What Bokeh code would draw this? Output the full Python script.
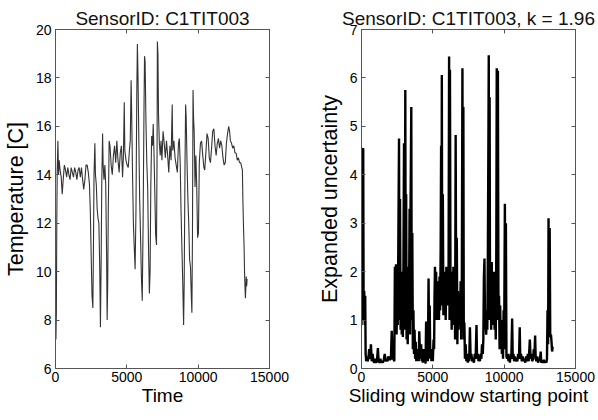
from bokeh.plotting import figure
from bokeh.layouts import row
from bokeh.models import LinearAxis, Range1d, FixedTicker
from bokeh.embed import file_html
from bokeh.resources import INLINE

# ---- data ----
time_pts = [0, 30, 60, 90, 120, 170, 210, 260, 320, 400, 470, 540, 620, 700, 780, 860, 940, 1020, 1100, 1180,
            1260, 1340, 1420, 1500, 1580, 1660, 1740, 1820, 1900, 1980, 2060, 2140, 2220, 2300, 2380, 2440, 2500,
            2560, 2620, 2660, 2700, 2760, 2800, 2860, 2920, 2980, 3040, 3100, 3150, 3200, 3240, 3300, 3340, 3400,
            3460, 3520, 3580, 3620, 3660, 3700, 3760, 3820, 3900, 3980, 4060, 4140, 4220, 4300, 4380, 4460, 4540,
            4620, 4700, 4760, 4820, 4860, 4940, 5020, 5100, 5180, 5240, 5300, 5340, 5400, 5460, 5520, 5580, 5640,
            5700, 5740, 5780, 5840, 5900, 5960, 6020, 6080, 6140, 6200, 6240, 6280, 6340, 6400, 6460, 6520, 6580,
            6630, 6680, 6740, 6800, 6850, 6900, 6960, 7020, 7080, 7120, 7140, 7180, 7220, 7280, 7340, 7400, 7460,
            7540, 7620, 7700, 7780, 7860, 7940, 8020, 8100, 8180, 8220, 8300, 8380, 8460, 8540, 8620, 8680, 8740,
            8800, 8860, 8920, 8980, 9020, 9080, 9120, 9160, 9220, 9280, 9340, 9400, 9460, 9520, 9560, 9600, 9640,
            9680, 9720, 9780, 9840, 9900, 9960, 10020, 10080, 10160, 10240, 10320, 10400, 10460, 10540, 10620,
            10700, 10780, 10860, 10940, 11020, 11100, 11180, 11260, 11340, 11420, 11500, 11580, 11660, 11740,
            11820, 11900, 11980, 12060, 12140, 12200, 12260, 12340, 12420, 12500, 12580, 12660, 12740, 12820,
            12900, 12980, 13060, 13100, 13140, 13180, 13220, 13250, 13280, 13310, 13340, 13370, 13400, 13430]
temperature = [8.4, 7.2, 8.3, 12.0, 14.2, 15.4, 14.0, 14.6, 14.2, 13.9, 13.2, 13.8, 14.4, 14.2, 13.9, 14.3, 14.0,
               13.8, 14.3, 14.1, 13.9, 14.3, 14.1, 13.8, 14.2, 14.3, 13.9, 14.3, 13.8, 13.4, 13.8, 14.4, 14.4, 14.1,
               13.6, 12.5, 10.7, 9.0, 8.5, 11.0, 14.0, 15.3, 14.0, 13.6, 12.6, 12.2, 12.0, 10.2, 7.7, 10.5, 13.5,
               15.7, 14.4, 13.8, 14.4, 13.6, 10.8, 8.0, 9.5, 12.5, 15.4, 15.2, 14.4, 14.0, 14.8, 15.2, 14.5, 15.4,
               14.6, 14.1, 14.9, 15.2, 13.9, 14.8, 17.0, 15.0, 14.6, 14.4, 14.3, 15.0, 15.4, 17.9, 16.5, 14.0, 12.0,
               11.0, 10.1, 12.5, 17.5, 19.4, 18.2, 15.5, 13.0, 11.5, 9.8, 8.8, 12.0, 16.5, 18.9, 18.7, 16.2, 14.5,
               13.5, 11.0, 9.1, 10.0, 13.5, 15.6, 15.2, 16.1, 15.0, 13.3, 11.5, 11.1, 15.0, 19.5, 19.0, 16.5, 15.3,
               14.8, 15.4, 14.6, 15.8, 15.3, 14.7, 15.4, 14.8, 14.1, 15.2, 14.6, 16.9, 15.0, 15.4, 14.7, 14.4, 14.1,
               15.3, 15.5, 14.5, 12.5, 11.0, 9.5, 7.8, 9.5, 14.5, 16.9, 16.4, 14.5, 13.0, 12.0, 10.5, 10.2, 9.0,
               8.3, 11.5, 17.5, 16.3, 15.8, 13.5, 14.8, 13.5, 11.4, 11.6, 14.5, 15.3, 15.4, 14.8, 14.3, 14.2, 14.9,
               15.7, 15.5, 14.7, 14.5, 15.1, 15.8, 15.9, 15.2, 14.8, 15.3, 15.5, 15.1, 15.4, 15.2, 14.7, 14.4, 14.5,
               15.3, 15.7, 16.0, 15.8, 15.4, 15.3, 15.1, 15.2, 14.9, 14.9, 14.6, 14.7, 14.5, 14.5, 14.3, 14.2, 12.8,
               11.8, 11.0, 10.0, 9.4, 8.9, 9.3, 9.8, 9.4, 9.7]

window_start = [0, 60, 120, 150, 190, 230, 260, 290, 330, 370, 420, 480, 540, 600, 660, 720, 780, 840, 900, 960,
                1020, 1080, 1150, 1200, 1260, 1320, 1380, 1440, 1500, 1560, 1630, 1700, 1760, 1820, 1880, 1940, 2000,
                2060, 2120, 2180, 2240, 2300, 2340, 2380, 2420, 2460, 2500, 2540, 2580, 2630, 2660, 2700, 2740, 2780,
                2820, 2860, 2900, 2940, 2980, 3010, 3040, 3070, 3100, 3130, 3160, 3200, 3240, 3280, 3320, 3370, 3400,
                3440, 3490, 3520, 3560, 3600, 3640, 3680, 3720, 3760, 3800, 3840, 3880, 3920, 3960, 4010, 4050, 4100,
                4140, 4180, 4220, 4260, 4300, 4350, 4400, 4450, 4490, 4530, 4570, 4610, 4650, 4700, 4740, 4780, 4820,
                4860, 4900, 4950, 5000, 5050, 5090, 5120, 5150, 5190, 5230, 5270, 5310, 5350, 5390, 5430, 5470, 5510,
                5550, 5580, 5610, 5630, 5660, 5700, 5740, 5780, 5820, 5860, 5900, 5950, 6000, 6050, 6100, 6140, 6170,
                6200, 6240, 6280, 6320, 6360, 6400, 6440, 6480, 6520, 6560, 6600, 6640, 6680, 6720, 6760, 6800, 6850,
                6900, 6950, 6990, 7030, 7075, 7110, 7140, 7170, 7210, 7250, 7300, 7350, 7400, 7450, 7500, 7550, 7600,
                7650, 7700, 7760, 7820, 7880, 7940, 8000, 8060, 8100, 8150, 8200, 8250, 8300, 8350, 8400, 8450, 8500,
                8540, 8580, 8620, 8660, 8700, 8740, 8780, 8820, 8860, 8900, 8920, 8950, 8980, 9010, 9050, 9090, 9130,
                9170, 9210, 9250, 9290, 9330, 9370, 9410, 9450, 9480, 9520, 9560, 9600, 9640, 9680, 9720, 9760, 9800,
                9840, 9880, 9920, 9960, 10000, 10050, 10090, 10120, 10160, 10200, 10250, 10300, 10350, 10400, 10450,
                10500, 10560, 10600, 10650, 10700, 10750, 10800, 10860, 10920, 10980, 11040, 11090, 11130, 11180,
                11240, 11300, 11360, 11420, 11480, 11540, 11600, 11660, 11720, 11800, 11840, 11880, 11920, 11960,
                12020, 12080, 12120, 12170, 12210, 12260, 12320, 12380, 12440, 12500, 12560, 12600, 12660, 12720,
                12780, 12840, 12900, 12960, 13000, 13040, 13080, 13110, 13150, 13190, 13230, 13280, 13320, 13360,
                13400]
uncertainty = [0.9, 4.5, 4.55, 1.0, 1.6, 0.9, 1.5, 0.3, 0.15, 0.25, 0.15, 0.2, 0.4, 0.2, 0.5, 0.15, 0.3, 0.15,
               0.12, 0.2, 0.12, 0.15, 0.42, 0.15, 0.12, 0.2, 0.12, 0.15, 0.12, 0.18, 0.3, 0.15, 0.2, 0.15, 0.25, 0.2,
               0.18, 0.2, 0.78, 0.2, 0.2, 0.15, 2.1, 1.2, 2.15, 0.7, 1.9, 0.9, 2.5, 4.75, 1.0, 3.5, 0.8, 2.0, 0.7,
               1.2, 0.65, 2.1, 4.65, 0.8, 1.5, 5.75, 1.2, 3.6, 0.6, 2.1, 0.5, 1.8, 0.8, 3.3, 0.7, 3.4, 5.4, 1.0, 2.8,
               0.4, 1.2, 0.3, 0.8, 0.2, 0.55, 0.15, 0.4, 0.2, 0.3, 0.15, 0.77, 0.3, 0.2, 0.5, 0.15, 0.3, 0.12, 0.4,
               0.15, 0.25, 0.1, 0.97, 0.3, 0.5, 0.15, 1.86, 0.5, 1.3, 0.2, 0.4, 0.15, 0.3, 0.15, 0.6, 0.4, 1.5, 2.1,
               1.2, 2.0, 1.0, 1.8, 1.1, 1.6, 1.0, 1.9, 1.2, 2.5, 4.6, 1.5, 6.06, 1.3, 3.6, 1.1, 1.9, 1.2, 2.0, 1.0,
               2.1, 1.3, 2.0, 1.5, 6.44, 1.0, 6.17, 1.4, 2.0, 0.8, 1.5, 0.9, 2.1, 1.1, 2.0, 0.6, 4.82, 1.0, 2.7, 0.5,
               1.6, 0.8, 1.3, 0.9, 1.8, 0.6, 1.5, 6.2, 1.0, 5.4, 0.6, 0.95, 0.2, 0.5, 0.15, 0.3, 0.12, 0.25, 0.15,
               0.85, 0.2, 0.3, 0.15, 0.2, 0.12, 0.3, 0.2, 0.9, 0.2, 0.3, 0.15, 0.25, 0.15, 0.3, 0.2, 0.5, 0.3, 0.6,
               1.9, 2.27, 0.8, 1.0, 0.7, 1.2, 0.8, 2.5, 5.0, 6.47, 1.0, 5.6, 1.2, 2.0, 0.8, 2.2, 1.0, 1.8, 0.9, 2.0,
               0.8, 1.5, 0.6, 2.5, 6.2, 1.0, 6.15, 1.2, 1.5, 0.4, 1.3, 0.5, 1.0, 0.3, 0.8, 0.2, 1.2, 0.6, 3.4, 0.4,
               3.0, 0.25, 0.2, 0.3, 0.15, 0.25, 0.12, 0.3, 0.2, 1.03, 0.2, 0.3, 0.15, 0.25, 0.15, 0.2, 0.15, 0.3,
               0.2, 0.85, 0.2, 0.3, 0.15, 0.25, 0.15, 0.2, 0.12, 0.25, 0.15, 0.3, 0.15, 0.6, 0.3, 0.2, 0.3, 0.15,
               0.2, 0.4, 0.25, 0.68, 0.2, 0.15, 0.25, 0.12, 0.2, 0.15, 0.35, 0.12, 0.15, 0.12, 0.18, 0.12, 0.15,
               0.12, 0.2, 1.2, 0.5, 3.1, 0.7, 2.9, 0.65, 0.7, 0.55, 0.35, 0.45]

x_ticks = [0, 5000, 10000, 15000]
left_y_ticks = [6, 8, 10, 12, 14, 16, 18, 20]
right_y_ticks = [0, 1, 2, 3, 4, 5, 6, 7]

FONT = "Liberation Sans"
AX_COLOR = "#555555"


def tick_only_axis(ticks):
    # inward MATLAB-style ticks without labels (labels are not drawn at all)
    return LinearAxis(ticker=FixedTicker(ticks=ticks), major_label_text_font_size="0px",
                      major_label_text_color=None, major_label_text_alpha=0,
                      major_tick_in=4, major_tick_out=0, minor_tick_line_color=None,
                      axis_line_color=AX_COLOR, major_tick_line_color=AX_COLOR,
                      major_label_standoff=0)


def make_fig(title, xlabel, ylabel, yr, yticks, border_left, border_right):
    p = figure(frame_width=214, frame_height=339, output_backend="svg", toolbar_location=None,
               x_range=Range1d(0, 15000), y_range=Range1d(*yr),
               min_border_left=border_left, min_border_right=border_right,
               min_border_top=29, min_border_bottom=30)
    p.title.text = title
    p.title.align = "center"
    p.title.text_font = FONT
    p.title.text_font_size = "19px"
    p.title.text_font_style = "normal"
    p.title.text_color = "#111111"
    p.title.offset = 0
    p.title.standoff = 2
    p.xgrid.visible = False
    p.ygrid.visible = False
    p.outline_line_color = AX_COLOR
    p.background_fill_color = "white"
    p.border_fill_color = "white"

    p.xaxis.ticker = FixedTicker(ticks=x_ticks)
    p.yaxis.ticker = FixedTicker(ticks=yticks)
    p.xaxis.axis_label = xlabel
    p.yaxis.axis_label = ylabel
    for ax in p.xaxis + p.yaxis:
        ax.major_tick_in = 4
        ax.major_tick_out = 0
        ax.minor_tick_line_color = None
        ax.axis_line_color = AX_COLOR
        ax.major_tick_line_color = AX_COLOR
        ax.major_label_text_font = FONT
        ax.major_label_text_font_size = "14px"
        ax.major_label_text_color = "black"
        ax.axis_label_text_font = FONT
        ax.axis_label_text_font_style = "normal"
        ax.axis_label_text_color = "black"
    p.xaxis.axis_label_text_font_size = "19px"
    p.yaxis.axis_label_text_font_size = "21.5px"
    p.xaxis.major_label_standoff = 3
    p.xaxis.axis_label_standoff = 0
    p.yaxis.major_label_standoff = 4
    p.yaxis.axis_label_standoff = 5

    p.add_layout(tick_only_axis(x_ticks), "above")
    p.add_layout(tick_only_axis(yticks), "right")
    return p


p1 = make_fig("SensorID: C1TIT003", "Time", "Temperature [C]", (6, 20), left_y_ticks, 46, 30)
p1.line(time_pts, temperature, line_color="#333333", line_width=1.1)

p2 = make_fig("SensorID: C1TIT003, k = 1.96", "Sliding window starting point", "Expanded uncertainty",
              (0, 7), right_y_ticks, 62, 24)
p2.line(window_start, uncertainty, line_color="black", line_width=2.4)

layout = row(p1, p2)
open("out.html", "w").write(file_html(layout, INLINE))
